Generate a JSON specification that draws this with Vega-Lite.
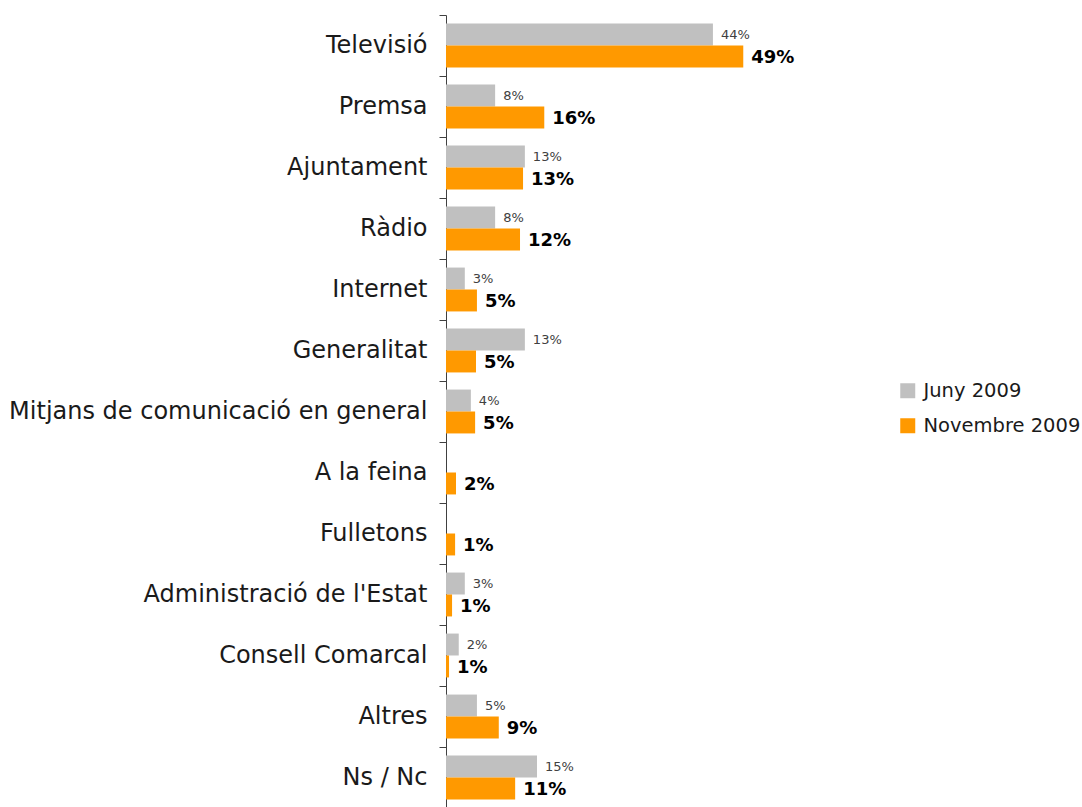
{
  "$schema": "https://vega.github.io/schema/vega-lite/v6.json",
  "width": 364,
  "height": 793,
  "autosize": {"type": "none"},
  "padding": {"left": 446, "top": 15, "right": 272, "bottom": 0},
  "background": "white",
  "config": {"view": {"stroke": null}, "font": "DejaVu Sans"},
  "data": {"values": [
    {"cat": "Televisió", "serie": "Juny 2009", "v": 44, "label": "44%"},
    {"cat": "Televisió", "serie": "Novembre 2009", "v": 49, "label": "49%"},
    {"cat": "Premsa", "serie": "Juny 2009", "v": 8.1, "label": "8%"},
    {"cat": "Premsa", "serie": "Novembre 2009", "v": 16.2, "label": "16%"},
    {"cat": "Ajuntament", "serie": "Juny 2009", "v": 13, "label": "13%"},
    {"cat": "Ajuntament", "serie": "Novembre 2009", "v": 12.7, "label": "13%"},
    {"cat": "Ràdio", "serie": "Juny 2009", "v": 8.1, "label": "8%"},
    {"cat": "Ràdio", "serie": "Novembre 2009", "v": 12.2, "label": "12%"},
    {"cat": "Internet", "serie": "Juny 2009", "v": 3.1, "label": "3%"},
    {"cat": "Internet", "serie": "Novembre 2009", "v": 5.1, "label": "5%"},
    {"cat": "Generalitat", "serie": "Juny 2009", "v": 13, "label": "13%"},
    {"cat": "Generalitat", "serie": "Novembre 2009", "v": 4.95, "label": "5%"},
    {"cat": "Mitjans de comunicació en general", "serie": "Juny 2009", "v": 4.1, "label": "4%"},
    {"cat": "Mitjans de comunicació en general", "serie": "Novembre 2009", "v": 4.8, "label": "5%"},
    {"cat": "A la feina", "serie": "Novembre 2009", "v": 1.65, "label": "2%"},
    {"cat": "Fulletons", "serie": "Novembre 2009", "v": 1.5, "label": "1%"},
    {"cat": "Administració de l'Estat", "serie": "Juny 2009", "v": 3.1, "label": "3%"},
    {"cat": "Administració de l'Estat", "serie": "Novembre 2009", "v": 1.0, "label": "1%"},
    {"cat": "Consell Comarcal", "serie": "Juny 2009", "v": 2.1, "label": "2%"},
    {"cat": "Consell Comarcal", "serie": "Novembre 2009", "v": 0.5, "label": "1%"},
    {"cat": "Altres", "serie": "Juny 2009", "v": 5.1, "label": "5%"},
    {"cat": "Altres", "serie": "Novembre 2009", "v": 8.7, "label": "9%"},
    {"cat": "Ns / Nc", "serie": "Juny 2009", "v": 15, "label": "15%"},
    {"cat": "Ns / Nc", "serie": "Novembre 2009", "v": 11.4, "label": "11%"}
  ]},
  "encoding": {
    "y": {
      "field": "cat", "type": "nominal", "sort": null, "title": null,
      "scale": {"domain": ["Televisió", "Premsa", "Ajuntament", "Ràdio", "Internet", "Generalitat", "Mitjans de comunicació en general", "A la feina", "Fulletons", "Administració de l'Estat", "Consell Comarcal", "Altres", "Ns / Nc"], "paddingInner": 0, "paddingOuter": 0},
      "axis": {"tickBand": "extent", "domainColor": "#404040", "tickColor": "#404040", "tickSize": 7, "labelPadding": 12, "labelFontSize": 24, "labelColor": "#1a1a1a", "labelFont": "DejaVu Sans", "labelLimit": 500}
    },
    "x": {"field": "v", "type": "quantitative", "scale": {"domain": [0, 60]}, "axis": null},
    "yOffset": {"field": "serie", "type": "nominal", "scale": {"domain": ["Juny 2009", "Novembre 2009"], "paddingInner": 0, "paddingOuter": 0.39}}
  },
  "layer": [
    {
      "mark": {"type": "bar"},
      "encoding": {
        "color": {"field": "serie", "type": "nominal", "scale": {"domain": ["Juny 2009", "Novembre 2009"], "range": ["#C0C0C0", "#FF9900"]},
          "legend": {"title": null, "orient": "none", "legendX": 452, "legendY": 366, "symbolType": "square", "symbolSize": 225, "symbolStrokeWidth": 0, "labelFontSize": 19.5, "labelColor": "#1a1a1a", "rowPadding": 14, "labelOffset": 6, "labelLimit": 300}}
      }
    },
    {
      "transform": [{"filter": "datum.serie === 'Juny 2009'"}],
      "mark": {"type": "text", "align": "left", "baseline": "middle", "dx": 8, "fontSize": 13, "color": "#404040"},
      "encoding": {"text": {"field": "label"}}
    },
    {
      "transform": [{"filter": "datum.serie === 'Novembre 2009'"}],
      "mark": {"type": "text", "align": "left", "baseline": "middle", "dx": 8, "dy": 2, "fontSize": 18, "fontWeight": "bold", "color": "#000000"},
      "encoding": {"text": {"field": "label"}}
    }
  ]
}
